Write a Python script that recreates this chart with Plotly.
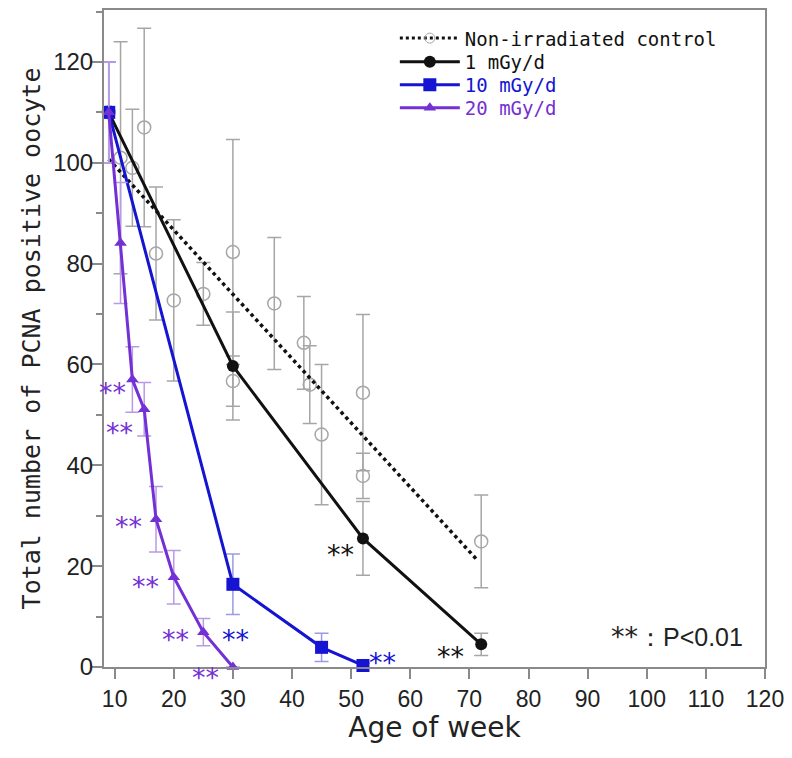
import plotly.graph_objects as go

# --- data ---
ctrl_weeks = [9, 11, 13, 15, 17, 20, 25, 30, 30, 37, 42, 43, 45, 52, 52, 72]
ctrl_vals = [110, 101, 99, 107, 82, 72.7, 74, 82.3, 56.7, 72.1, 64.3, 56, 46.1, 54.4, 37.9, 24.9]
ctrl_err = [10, 23, 11.6, 19.7, 13.2, 16, 6.2, 22.3, 5, 13.1, 9.2, 7.7, 13.9, 15.5, 4.5, 9.2]

trend_weeks = [9, 71.5]
trend_vals = [100.7, 21]

w1_weeks = [9, 30, 52, 72]
w1_vals = [110, 59.7, 25.5, 4.5]
w1_err = [10, 10.7, 7.3, 2.2]

w10_weeks = [9, 30, 45, 52]
w10_vals = [110, 16.4, 3.9, 0.3]
w10_err = [10, 6, 2.8, 0.5]

w20_weeks = [9, 11, 13, 15, 17, 20, 25, 30]
w20_vals = [110, 84.1, 57, 51.1, 29.3, 17.8, 6.9, 0]
w20_err = [10, 12, 6.5, 5.3, 6.5, 5.3, 2.7, 0]

BLACK = '#111111'
BLUE = '#1414d2'
PURPLE = '#7330d4'
GREY = '#a6a6a6'
FRAME = '#8a8a8a'
TEXT = '#222222'
MONO = 'DejaVu Sans Mono, Liberation Mono, monospace'
SANS = 'Liberation Sans, Arial, sans-serif'

fig = go.Figure()

# control points with error bars
fig.add_trace(go.Scatter(
    x=ctrl_weeks, y=ctrl_vals, mode='markers', showlegend=False,
    marker=dict(symbol='circle-open', size=13, color=GREY, line=dict(width=1.5, color=GREY)),
    error_y=dict(type='data', array=ctrl_err, color=GREY, thickness=1.5, width=7),
    cliponaxis=False,
))
# control trend line
fig.add_trace(go.Scatter(
    x=trend_weeks, y=trend_vals, mode='lines', showlegend=False,
    line=dict(color=BLACK, width=3.5, dash='dot'),
))
# legend entry for control
fig.add_trace(go.Scatter(
    x=[None], y=[None], mode='lines+markers', name='Non-irradiated control',
    line=dict(color=BLACK, width=3, dash='dot'),
    marker=dict(symbol='circle-open', size=10, color=GREY),
    legend='legend',
))

fig.add_trace(go.Scatter(
    x=w1_weeks, y=w1_vals, mode='lines+markers', name='1 mGy/d',
    line=dict(color=BLACK, width=3),
    marker=dict(symbol='circle', size=12, color=BLACK),
    error_y=dict(type='data', array=w1_err, color=GREY, thickness=1.5, width=7),
    cliponaxis=False, legend='legend2',
))
fig.add_trace(go.Scatter(
    x=w10_weeks, y=w10_vals, mode='lines+markers',
    name=f"<span style='color:{BLUE}'>10 mGy/d</span>",
    line=dict(color=BLUE, width=3),
    marker=dict(symbol='square', size=13, color=BLUE),
    error_y=dict(type='data', array=w10_err, color='#9a9ae8', thickness=1.5, width=7),
    cliponaxis=False, legend='legend3',
))
fig.add_trace(go.Scatter(
    x=w20_weeks, y=w20_vals, mode='lines+markers',
    name=f"<span style='color:{PURPLE}'>20 mGy/d</span>",
    line=dict(color=PURPLE, width=3),
    marker=dict(symbol='triangle-up', size=11, color=PURPLE),
    error_y=dict(type='data', array=w20_err, color='#b99ae8', thickness=1.5, width=7),
    cliponaxis=False, legend='legend4',
))

# significance marks: (weeks, values, point index, xshift, yshift, colour)
sig_marks = [
    (w20_weeks, w20_vals, 2, -20, -6, PURPLE),
    (w20_weeks, w20_vals, 3, -25, -16, PURPLE),
    (w20_weeks, w20_vals, 4, -28, 0, PURPLE),
    (w20_weeks, w20_vals, 5, -28, -2, PURPLE),
    (w20_weeks, w20_vals, 6, -28, 0, PURPLE),
    (w20_weeks, w20_vals, 7, -27, -3, PURPLE),
    (w10_weeks, w10_vals, 1, 3, -48, BLUE),
    (w10_weeks, w10_vals, 3, 20, 10, BLUE),
    (w1_weeks, w1_vals, 2, -22, -9, BLACK),
    (w1_weeks, w1_vals, 3, -31, -5, BLACK),
]
for xs, ys, i, dx, dy, col in sig_marks:
    fig.add_annotation(
        x=xs[i], y=ys[i], text='**', showarrow=False,
        xshift=dx, yshift=dy - 7,
        font=dict(family='DejaVu Sans, sans-serif', size=27, color=col),
    )

fig.add_annotation(
    xref='paper', yref='paper', x=0.97, y=0.046, xanchor='right', yanchor='middle',
    text="<span style='font-family:DejaVu Sans; font-size:27px'>**</span>：P<0.01",
    showarrow=False,
    font=dict(family=SANS, size=25, color=TEXT),
)

axis_common = dict(
    showline=True, linecolor=FRAME, linewidth=2, mirror=True,
    ticks='outside', ticklen=10, tickwidth=2, tickcolor=FRAME,
    showgrid=False, zeroline=False, automargin=False,
)

legend_common = dict(
    x=0.44, xanchor='left', yanchor='middle',
    bgcolor='rgba(0,0,0,0)', itemwidth=60,
    font=dict(family=MONO, size=19, color=BLACK),
)

# the page body adds an 8px offset; keep the page inside the window
fig.update_layout(
    width=784, height=736,
    margin=dict(l=96, r=27, t=2, b=77),
    paper_bgcolor='white', plot_bgcolor='white',
    xaxis=dict(
        range=[8.2, 120], tick0=10, dtick=10,
        title=dict(text='Age of week', font=dict(family='DejaVu Sans, sans-serif', size=28, color=TEXT),
                   standoff=7),
        tickfont=dict(family=SANS, size=23, color=TEXT),
        **axis_common,
    ),
    yaxis=dict(
        range=[0, 130.3], tick0=0, dtick=20,
        minor=dict(dtick=10, ticks='outside', ticklen=6, tickwidth=2, tickcolor=FRAME),
        title=dict(text='Total number of PCNA positive oocyte',
                   font=dict(family=MONO, size=25, color=TEXT), standoff=5),
        tickfont=dict(family=SANS, size=24, color=TEXT), ticklabelstandoff=-6,
        **axis_common,
    ),
    legend=dict(y=0.957, **legend_common),
    legend2=dict(y=0.921, **legend_common),
    legend3=dict(y=0.886, **legend_common),
    legend4=dict(y=0.851, **legend_common),
)

fig.write_html('out.html')
